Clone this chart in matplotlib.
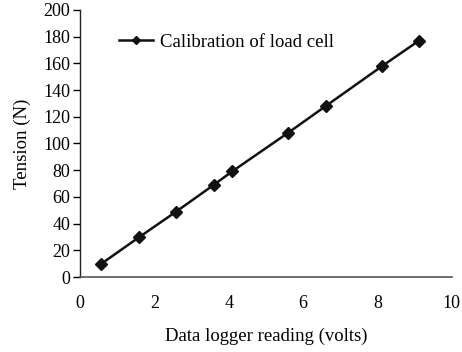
import matplotlib
matplotlib.use('Agg')
from matplotlib import pyplot as plt

# lecturas del data logger (V) y tension (N)
volts = [0.58, 1.6, 2.59, 3.6, 4.09, 5.6, 6.61, 8.13, 9.12]
tension = [10, 30, 49, 69, 79, 108, 128, 158, 177]

xticks = [0, 2, 4, 6, 8, 10]
yticks = [0, 20, 40, 60, 80, 100, 120, 140, 160, 180, 200]

plt.rcParams['font.family'] = ['Liberation Serif', 'DejaVu Serif']

fig = plt.figure(figsize=(4.62, 3.52), dpi=100)
ax = fig.add_axes([0.173, 0.213, 0.805, 0.759])

ax.plot(volts, tension, color='#111111', linewidth=1.8, marker='D',
        markersize=6.5, label='Calibration of load cell')

ax.set_xlim(0, 10)
ax.set_ylim(0, 200)
ax.set_xticks(xticks)
ax.set_yticks(yticks)

ax.spines['top'].set_visible(False)
ax.spines['right'].set_visible(False)
ax.spines['left'].set_color('#222222')
ax.spines['bottom'].set_color('#555555')
ax.spines['left'].set_linewidth(1.0)
ax.spines['bottom'].set_linewidth(1.2)

ax.tick_params(axis='y', direction='out', length=5, width=1, labelsize=13, pad=2)
ax.tick_params(axis='x', length=0, labelsize=13, pad=13)

ax.set_xlabel('Data logger reading (volts)', fontsize=13.5, labelpad=11)
ax.set_ylabel('Tension (N)', fontsize=13.5, labelpad=9)

ax.legend(loc='upper left', bbox_to_anchor=(0.06, 0.975), frameon=False,
          fontsize=13.5, handlelength=1.8, handletextpad=0.4, markerscale=0.65)

plt.savefig('out.png', dpi=100)
